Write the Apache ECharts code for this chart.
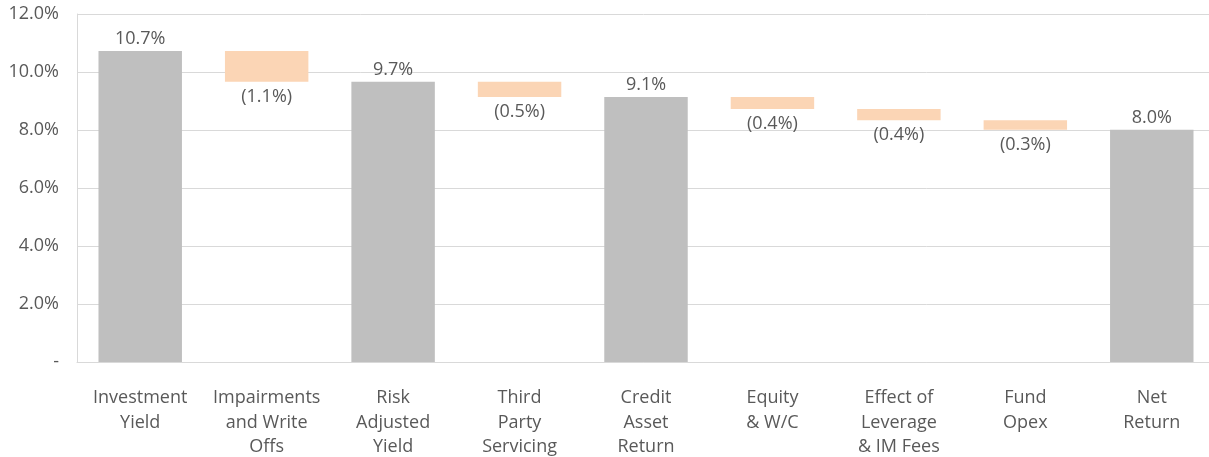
<!DOCTYPE html>
<html><head><meta charset="utf-8">
<script src="https://cdn.jsdelivr.net/npm/echarts@6/dist/echarts.min.js"></script>
<style>html,body{margin:0;padding:0;background:#fff;overflow:hidden}#c{width:1209px;height:457px}</style>
</head><body><div id="c"></div>
<script>
const categories = ['Investment\nYield','Impairments\nand Write\nOffs','Risk\nAdjusted\nYield','Third\nParty\nServicing','Credit\nAsset\nReturn','Equity\n& W/C','Effect of\nLeverage\n& IM Fees','Fund\nOpex','Net\nReturn'];
// subtotal bars (null where the step is a change)
const totals = [10.72, null, 9.66, null, 9.14, null, null, null, 8.01];
// step changes (null where the bar is a subtotal)
const changes = [null, -1.06, null, -0.52, null, -0.42, -0.38, -0.33, null];
const yTicks = {min: 0, max: 12, interval: 2};

// waterfall: running level gives invisible base + visible step
const base = [], stepSize = [], totalVals = [];
let level = 0;
for (let i = 0; i < categories.length; i++) {
  if (totals[i] !== null) { level = totals[i]; base.push(0); stepSize.push(null); totalVals.push(totals[i]); }
  else { const nl = level + changes[i]; base.push(Math.min(level, nl)); stepSize.push(Math.abs(changes[i])); totalVals.push(null); level = nl; }
}
const font = 'Open Sans';
const txt = '#595959';
const chart = echarts.init(document.getElementById('c'));
chart.setOption({
  animation: false,
  textStyle: {fontFamily: font},
  grid: {left: 77, width: 1138, top: 14, bottom: 95, containLabel: false, outerBoundsMode: 'none'},
  xAxis: { type: 'category', data: categories, axisLine: {lineStyle: {color: '#d9d9d9'}}, axisTick: {show: false},
    axisLabel: {color: txt, fontSize: 18, lineHeight: 24.5, margin: 24, interval: 0, fontFamily: font} },
  yAxis: { type: 'value', min: yTicks.min, max: yTicks.max, interval: yTicks.interval,
    axisLine: {show: true, lineStyle: {color: '#d9d9d9'}}, axisTick: {show: false},
    splitLine: {lineStyle: {color: '#d9d9d9'}},
    axisLabel: {color: txt, fontSize: 18, margin: 18, fontFamily: font, formatter: v => v === 0 ? '-' : v.toFixed(1) + '%'} },
  series: [
    {type: 'bar', stack: 'w', data: base, barWidth: '66%', itemStyle: {color: 'transparent'}, silent: true},
    {type: 'bar', stack: 'w', data: totalVals, itemStyle: {color: '#bfbfbf'},
     label: {show: true, position: 'top', distance: 3, color: txt, fontSize: 18, fontFamily: font, formatter: p => p.value.toFixed(1) + '%'}},
    {type: 'bar', stack: 'w', data: stepSize, itemStyle: {color: '#fbd5b5'},
     label: {show: true, position: 'bottom', distance: 6, color: txt, fontSize: 18, fontFamily: font, formatter: p => '(' + p.value.toFixed(1) + '%)'}}
  ]
});
</script></body></html>
